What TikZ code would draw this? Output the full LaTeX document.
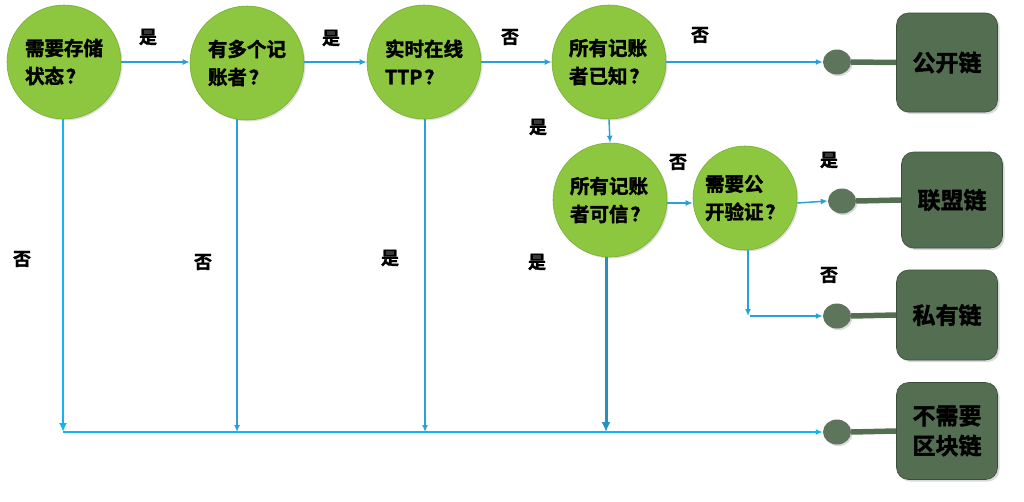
\documentclass[tikz,border=0pt]{standalone}
\usepackage{fontspec}
\setmainfont{Noto Sans CJK SC}[BoldFont={Noto Sans CJK SC Bold}, BoldFeatures={FakeBold=1.8}]
\usetikzlibrary{arrows.meta,shadows,shapes.geometric}
\definecolor{ballgreen}{RGB}{141,198,63}
\definecolor{ballrim}{RGB}{120,175,50}
\definecolor{boxgreen}{RGB}{84,110,82}
\definecolor{flowblue}{RGB}{41,160,215}
\definecolor{lightblue}{RGB}{20,180,240}
\newcommand{\qm}{\kern2pt？}
\tikzset{
  q/.style={circle, minimum size=#1, inner sep=0pt, fill=ballgreen, draw=ballrim, line width=0.6pt,
    drop shadow={shadow xshift=1.5pt, shadow yshift=-1.5pt, opacity=0.25},
    align=left, font=\fontsize{19.5}{28}\selectfont\bfseries},
  q/.default=114pt,
  res/.style={rounded corners=12pt, minimum width=101pt, fill=boxgreen, draw=boxgreen!70!black, line width=0.6pt,
    drop shadow={shadow xshift=2pt, shadow yshift=-2pt, opacity=0.3},
    align=center, font=\fontsize{23}{30}\selectfont\bfseries},
  knob/.style={ellipse, minimum width=28pt, minimum height=25pt, inner sep=0pt, fill=boxgreen!95!white,
    drop shadow={shadow xshift=1.5pt, shadow yshift=-1.5pt, opacity=0.3}},
  bar/.style={line width=5.5pt, boxgreen},
  arr/.style={flowblue, line width=1.5pt, -{Latex[length=7pt,width=6pt]}},
  arrb/.style={lightblue, line width=2.2pt, -{Latex[length=9pt,width=8pt]}},
  lab/.style={font=\fontsize{18}{20}\selectfont\bfseries, inner sep=0pt},
}
\begin{document}
\begin{tikzpicture}[x=1pt,y=-1pt]
\useasboundingbox (0,0) rectangle (1024,501);
% result boxes
\node[res, minimum height=99pt] (b1) at (947,62.5) {公开链};
\node[res, minimum height=96pt] (b2) at (952,200) {联盟链};
\node[res, minimum height=90pt] (b3) at (947,315) {私有链};
\node[res, minimum height=97pt] (b4) at (947,431) {不需要\\区块链};
% knobs
\node[knob] (k1) at (837,62) {};
\node[knob] (k2) at (842,201) {};
\node[knob] (k3) at (837,316) {};
\node[knob] (k4) at (837,432) {};
\draw[bar] (k1.east) -- (b1.west);
\draw[bar] (k2.east) -- (b2.west);
\draw[bar] (k3.east) -- (b3.west);
\draw[bar] (k4.east) -- (b4.west);
% questions
\node[q] (c1) at (64,62) {需要存储\\状态\qm};
\node[q] (c2) at (247,63) {有多个记\\账者\qm};
\node[q] (c3) at (424,62) {实时在线\\TTP\qm};
\node[q] (c4) at (609,62) {所有记账\\者已知\qm};
\node[q] (c5) at (610,200) {所有记账\\者可信\qm};
\node[q=104pt] (c6) at (745,198) {需要公\\开验证\qm};
% junction points
\coordinate (j1) at (63,432);
\coordinate (j2) at (237,432);
\coordinate (j3) at (425,432);
\coordinate (j4) at (606,432);
\coordinate (t6) at (748,316);
% horizontal flow
\draw[arr] (c1.east |- 0,62) -- (c2.west |- 0,62);
\draw[arr] (c2.east |- 0,62) -- (c3.west |- 0,62);
\draw[arr] (c3.east |- 0,62) -- (c4.west |- 0,62);
\draw[arr] (c4.east |- 0,62) -- (k1.west);
\draw[arr] (c4.south) -- (c5.north);
\draw[arr] (c5.east |- 0,203) -- (c6.west |- 0,203);
\draw[arr] (c6.east |- 0,203) -- (k2.west);
\draw[arr] (c6.south -| t6) -- (t6);
\draw[arr] ([xshift=2pt]t6) -- (k3.west);
% down to bottom line
\draw[arrb] (c1.south -| j1) -- (j1);
\draw[arr] (c2.260) -- (c2.260 |- j2);
\draw[arr] (c3.south -| j3) -- (j3);
\draw[flowblue!90!black, line width=3pt, -{Latex[length=10pt,width=9pt]}] (c5.south -| j4) -- (j4);
\draw[arrb, line width=1.8pt, -{Latex[length=7pt,width=6pt]}] (j1) -- (k4.west);
% labels
\node[lab] (l1) at (148,37) {是};
\node[lab] (l2) at (331,38) {是};
\node[lab] (l3) at (510,37) {否};
\node[lab] (l4) at (700,35) {否};
\node[lab] (l5) at (538,127) {是};
\node[lab] (l6) at (678,162) {否};
\node[lab] (l7) at (829,160) {是};
\node[lab] (l8) at (829,275) {否};
\node[lab] (l9) at (22,259) {否};
\node[lab] (l10) at (203,262) {否};
\node[lab] (l11) at (390,258) {是};
\node[lab] (l12) at (537,262) {是};
\end{tikzpicture}
\end{document}
